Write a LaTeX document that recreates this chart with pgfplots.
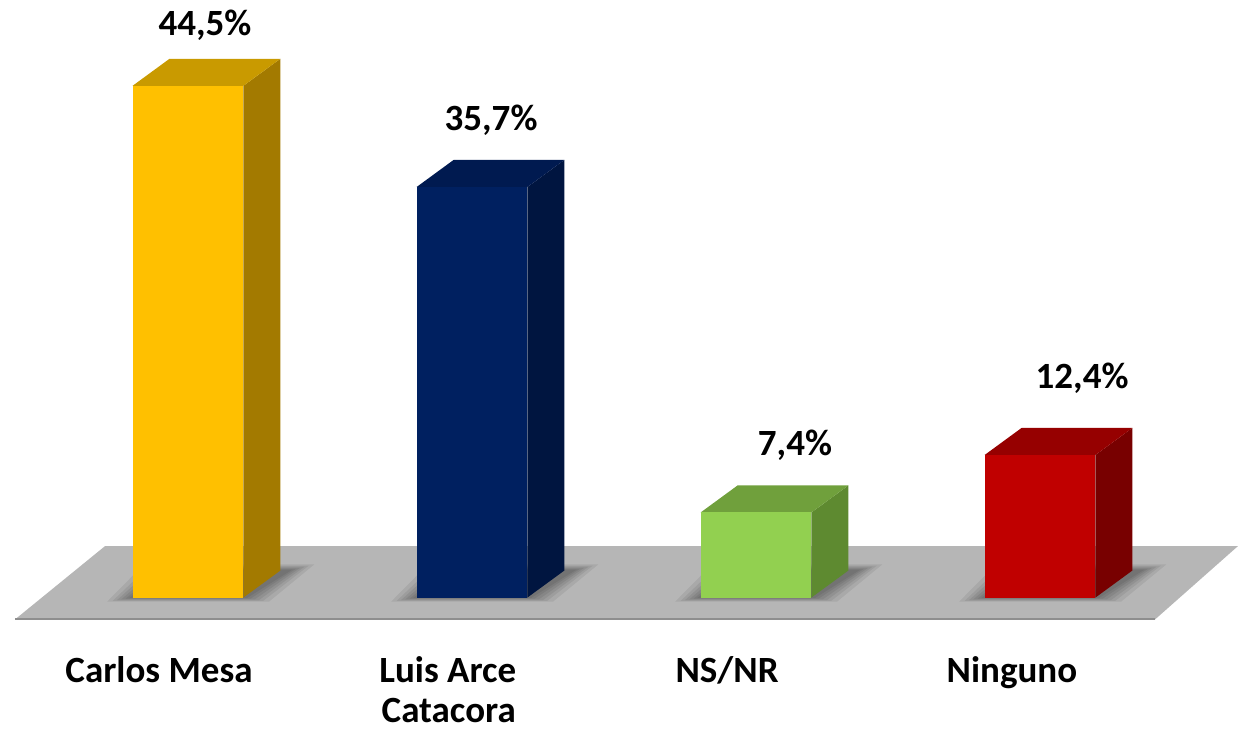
\documentclass[border=0pt]{standalone}
\usepackage{fontspec}
\setmainfont{Carlito}
\usepackage{pgfplots}
\pgfplotsset{compat=1.18}

\definecolor{goldF}{HTML}{FFC000}
\definecolor{goldS}{HTML}{A37A00}
\definecolor{goldT}{HTML}{C99A00}
\definecolor{navyF}{HTML}{002060}
\definecolor{navyS}{HTML}{001540}
\definecolor{navyT}{HTML}{001A50}
\definecolor{greenF}{HTML}{92D050}
\definecolor{greenS}{HTML}{5E8A30}
\definecolor{greenT}{HTML}{70A03C}
\definecolor{redF}{HTML}{C00000}
\definecolor{redS}{HTML}{780000}
\definecolor{redT}{HTML}{960000}
\definecolor{floor}{HTML}{B6B6B6}
\definecolor{floorEdge}{HTML}{8E8E8E}

% half width of the front face, depth offsets (x units, %)
\def\hw{0.195}
\def\dx{0.13}
\def\dy{2.35}

% soft shadow of the base, one layer
\newcommand\shadowlayer[2]{%
  \pgfmathsetmacro\sxl{#1-\hw-#2}\pgfmathsetmacro\sxr{#1+\hw+\dx+#2+0.03}%
  \pgfmathsetmacro\sxa{#1+\hw+#2}\pgfmathsetmacro\sxb{#1-\hw+\dx-#2}%
  \pgfmathsetmacro\sya{-4*#2}\pgfmathsetmacro\syb{\dy+6*#2}%
  \addplot[draw=none,fill=black,fill opacity=0.07] coordinates
    {(\sxl,\sya) (\sxa,\sya) (\sxr,\syb) (\sxb,\syb)} --cycle;
}

% one 3D bar: x, value, front, side, top
\newcommand\barthreed[5]{%
  \shadowlayer{#1}{0.09}\shadowlayer{#1}{0.07}\shadowlayer{#1}{0.055}%
  \shadowlayer{#1}{0.04}\shadowlayer{#1}{0.025}\shadowlayer{#1}{0.012}%
  \pgfmathsetmacro\xl{#1-\hw}\pgfmathsetmacro\xr{#1+\hw}%
  \pgfmathsetmacro\xbl{#1-\hw+\dx}\pgfmathsetmacro\xbr{#1+\hw+\dx}%
  \pgfmathsetmacro\vt{#2+\dy}%
  \addplot[draw=none,fill=#4] coordinates
    {(\xr,0) (\xbr,\dy) (\xbr,\vt) (\xr,#2)} --cycle;
  \addplot[draw=none,fill=#5] coordinates
    {(\xl,#2) (\xr,#2) (\xbr,\vt) (\xbl,\vt)} --cycle;
  \addplot[draw=none,fill=#3] coordinates
    {(\xl,0) (\xr,0) (\xr,#2) (\xl,#2)} --cycle;
}

\tikzset{lbl/.style={font=\fontsize{18.5}{22}\selectfont\bfseries, inner sep=0pt, anchor=base}}

\begin{document}
\begin{tikzpicture}
\begin{axis}[
  scale only axis, width=619pt, height=364.5pt,
  xmin=-0.662, xmax=3.697, ymin=-11.43, ymax=51.96,
  hide axis, clip=false,
]
\coordinate (A) at (rel axis cs:0,0);
\coordinate (B) at (rel axis cs:1,1);

% floor
\addplot[draw=none,fill=floor] coordinates
  {(-0.609,-1.9) (3.405,-1.9) (3.697,4.48) (-0.292,4.48)} --cycle;
\addplot[floorEdge,line width=1pt] coordinates {(-0.609,-1.9) (3.405,-1.9)};

\barthreed{0}{44.5}{goldF}{goldS}{goldT}
\barthreed{1}{35.7}{navyF}{navyS}{navyT}
\barthreed{2}{7.4}{greenF}{greenS}{greenT}
\barthreed{3}{12.4}{redF}{redS}{redT}

% value labels
\node[lbl] at (axis cs:0.060,48.91) {44,5\%};
\node[lbl] at (axis cs:1.067,40.65) {35,7\%};
\node[lbl] at (axis cs:2.137,12.39) {7,4\%};
\node[lbl] at (axis cs:3.148,18.22) {12,4\%};

% category labels
\node[lbl] at (axis cs:-0.102,-7.35) {Carlos Mesa};
\node[lbl] at (axis cs:0.915,-7.35) {Luis Arce};
\node[lbl] at (axis cs:0.918,-10.85) {Catacora};
\node[lbl] at (axis cs:1.898,-7.35) {NS/NR};
\node[lbl] at (axis cs:2.901,-7.35) {Ninguno};
\end{axis}
\pgfresetboundingbox
\useasboundingbox (A) rectangle (B);
\end{tikzpicture}
\end{document}
